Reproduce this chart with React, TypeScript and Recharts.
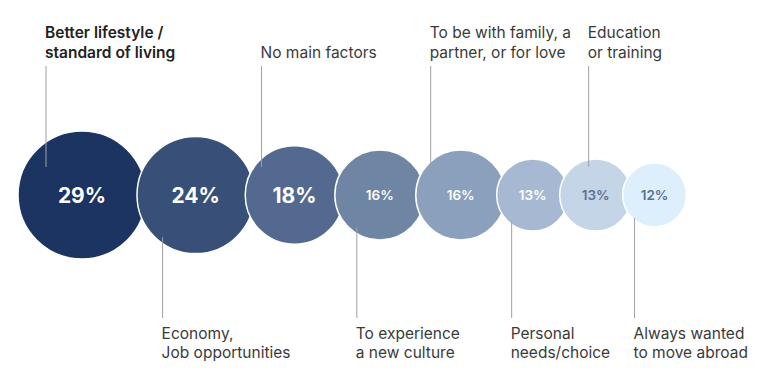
import { ScatterChart, Scatter, XAxis, YAxis, ZAxis } from 'recharts';

// reasons for moving abroad, in order of share
const reasons = [
  ['Better lifestyle /', 'standard of living'],
  ['Economy,', 'Job opportunities'],
  ['No main factors'],
  ['To experience', 'a new culture'],
  ['To be with family, a', 'partner, or for love'],
  ['Personal', 'needs/choice'],
  ['Education', 'or training'],
  ['Always wanted', 'to move abroad'],
];
const shares = [29, 24, 18, 16, 16, 13, 13, 12];

const fills = ['#1b3461', '#384f78', '#546990', '#6f85a4', '#8aa0bc', '#a6b8d2', '#c4d5e8', '#ddeffd'];
const valueColors = ['#fff', '#fff', '#fff', '#fff', '#fff', '#fff', '#5b7090', '#5b7090'];
const leaderDx = [-36, -33, -33, -23, -30, -21, -7, -20];

const W = 768;
const H = 381;
const Z_DOMAIN = [12, 29];
const Z_RANGE = [3194, 12868];
const FONT = 'Inter, "Noto Sans", sans-serif';

// same mapping as the log ZAxis, used only to pack bubbles side by side
const radiusOf = (v: number) => {
  const t = (Math.log(v) - Math.log(Z_DOMAIN[0])) / (Math.log(Z_DOMAIN[1]) - Math.log(Z_DOMAIN[0]));
  return Math.sqrt((Z_RANGE[0] + t * (Z_RANGE[1] - Z_RANGE[0])) / Math.PI);
};

const xs: number[] = [];
shares.forEach((v, i) => {
  const r = radiusOf(v);
  if (i === 0) xs.push(18 + r);
  else xs.push(xs[i - 1] + radiusOf(shares[i - 1]) + r - 9);
});

const data = shares.map((v, i) => ({ x: xs[i], y: 0, z: v, idx: i }));

function Bubble(props: any) {
  const { cx, cy, width, payload } = props;
  const r = width / 2;
  const i = payload.idx;
  const big = i < 3;
  const top = i % 2 === 0;
  const lx = cx + leaderDx[i];
  const lines = reasons[i];
  return (
    <g>
      <circle cx={cx} cy={cy} r={r} fill={fills[i]} stroke="#fff" strokeWidth={1.5} />
      <text
        x={cx}
        y={cy}
        textAnchor="middle"
        dominantBaseline="central"
        fill={valueColors[i]}
        fontFamily={FONT}
        fontSize={big ? 21 : 13.5}
        fontWeight={big ? 700 : 600}
      >
        {payload.z}%
      </text>
      {top ? (
        <line x1={lx} x2={lx} y1={cy - 129} y2={cy - 28} stroke="#a0a0a0" strokeWidth={1} />
      ) : (
        <line x1={lx} x2={lx} y1={cy + r * 0.72} y2={cy + 123} stroke="#a0a0a0" strokeWidth={1} />
      )}
      {lines.map((t, k) => {
        const y = top ? cy - 143 - (lines.length - 1 - k) * 19.5 : cy + 138 + k * 19.5;
        return (
          <text
            key={k}
            x={lx - 1}
            y={y}
            dominantBaseline="central"
            fill={i === 0 ? '#222' : '#3a3a3a'}
            fontFamily={FONT}
            fontSize={15.5}
            fontWeight={i === 0 ? 600 : 400}
          >
            {t}
          </text>
        );
      })}
    </g>
  );
}

export default function App() {
  return (
    <div style={{ position: 'absolute', left: 0, top: 0, width: W, height: H, background: '#fff' }}>
      <ScatterChart width={W} height={H} margin={{ top: 9, right: 0, bottom: 0, left: 0 }}>
        <XAxis type="number" dataKey="x" domain={[0, W]} hide />
        <YAxis type="number" dataKey="y" domain={[-1, 1]} hide />
        <ZAxis type="number" dataKey="z" domain={Z_DOMAIN} range={Z_RANGE} scale="log" />
        <Scatter data={data} shape={<Bubble />} isAnimationActive={false} />
      </ScatterChart>
    </div>
  );
}
